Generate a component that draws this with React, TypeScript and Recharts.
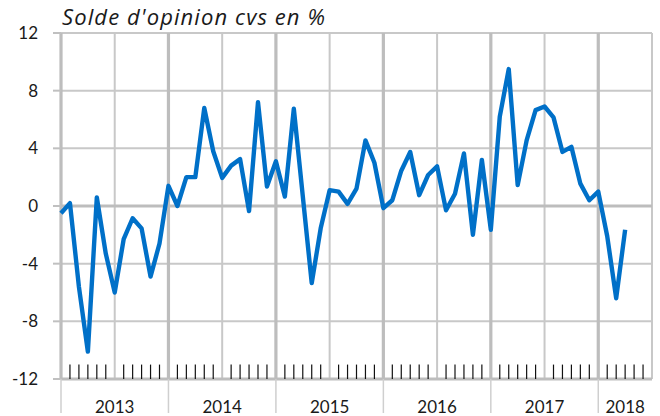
import React from 'react';
import { LineChart, Line, XAxis, YAxis, CartesianGrid, ReferenceLine } from 'recharts';

// month index 0 = Jan 2013
const values: number[] = [
  -0.5, 0.2, -5.6, -10.1, 0.6, -3.3, -6.0, -2.3, -0.85, -1.55, -4.9, -2.6,
  1.4, 0.0, 2.0, 2.0, 6.8, 3.8, 1.95, 2.8, 3.25, -0.35, 7.2, 1.35,
  3.1, 0.65, 6.75, 0.7, -5.35, -1.55, 1.1, 1.0, 0.15, 1.2, 4.55, 3.0,
  -0.15, 0.4, 2.45, 3.75, 0.75, 2.15, 2.75, -0.3, 0.85, 3.65, -2.0, 3.2,
  -1.65, 6.2, 9.5, 1.45, 4.55, 6.65, 6.9, 6.15, 3.75, 4.1, 1.55, 0.4,
  1.0, -2.1, -6.4, -1.65,
];
const yearLabels = ['2013', '2014', '2015', '2016', '2017', '2018'];
const yTicks = [-12, -8, -4, 0, 4, 8, 12];
const totalMonths = 66;

const data = values.map((v, i) => ({ m: i, v }));

const yearStarts = yearLabels.map((_, i) => i * 12);
const halfYears = yearLabels.map((_, i) => Math.min(i * 12 + 6, totalMonths));
const labelPos = yearLabels.map((_, i) => (i * 12 + Math.min(i * 12 + 12, totalMonths)) / 2);
const minorMonths: number[] = [];
for (let i = 0; i < totalMonths; i++) if (i % 6 !== 0) minorMonths.push(i);
const xTicks = [...yearStarts, ...labelPos].sort((a, b) => a - b);

const FONT = 'Lato, "Noto Sans", sans-serif';

const XTick = (props: any) => {
  const { x, y, payload } = props;
  const v = payload.value;
  if (yearStarts.includes(v)) {
    return <line x1={x} x2={x} y1={y} y2={y + 34} stroke="#cfcfcf" strokeWidth={1.5} />;
  }
  const idx = labelPos.indexOf(v);
  return (
    <text x={x} y={y + 34} textAnchor="middle" fontSize={17} fill="#1a1a1a" fontFamily={FONT}>
      {yearLabels[idx]}
    </text>
  );
};

export default function App() {
  return (
    <div style={{ position: 'absolute', left: 0, top: 0, width: 660, height: 416, background: '#fff' }}>
      <div
        style={{
          position: 'absolute', left: 62, top: 2, fontFamily: '"Open Sans", Lato, sans-serif', fontStyle: 'italic',
          fontSize: 22, color: '#1a1a1a', whiteSpace: 'nowrap', lineHeight: '28px', letterSpacing: 1.1,
        }}
      >
        Solde d'opinion cvs en %
      </div>
      <LineChart width={660} height={416} data={data} margin={{ top: 33, right: 8, bottom: 0, left: 21 }}>
        <CartesianGrid
          horizontalValues={[-8, -4, 4, 8, 12]}
          verticalValues={halfYears}
          stroke="#c8c8c8"
          strokeWidth={2}
        />
        <CartesianGrid
          horizontalValues={[0, -12]}
          verticalValues={yearStarts}
          stroke="#bdbdbd"
          strokeWidth={3.2}
        />
        <XAxis
          dataKey="m"
          type="number"
          domain={[0, totalMonths]}
          ticks={xTicks}
          interval={0}
          tick={<XTick />}
          tickLine={false}
          axisLine={false}
          tickSize={0}
          tickMargin={0}
          height={37}
        />
        <YAxis
          type="number"
          domain={[-12, 12]}
          ticks={yTicks}
          interval={0}
          width={40}
          axisLine={false}
          tickLine={{ stroke: '#c0c0c0', strokeWidth: 2 }}
          tickSize={8}
          tickMargin={15}
          tick={{ fontSize: 17, fill: '#1a1a1a', fontFamily: FONT }}
        />
        {minorMonths.map((m) => (
          <ReferenceLine
            key={m}
            segment={[{ x: m, y: -12 }, { x: m, y: -11 }]}
            stroke="#111"
            strokeWidth={1.2}
          />
        ))}
        <Line
          dataKey="v"
          stroke="#0070c8"
          strokeWidth={4.4}
          dot={false}
          isAnimationActive={false}
          strokeLinejoin="round"
        />
      </LineChart>
    </div>
  );
}
